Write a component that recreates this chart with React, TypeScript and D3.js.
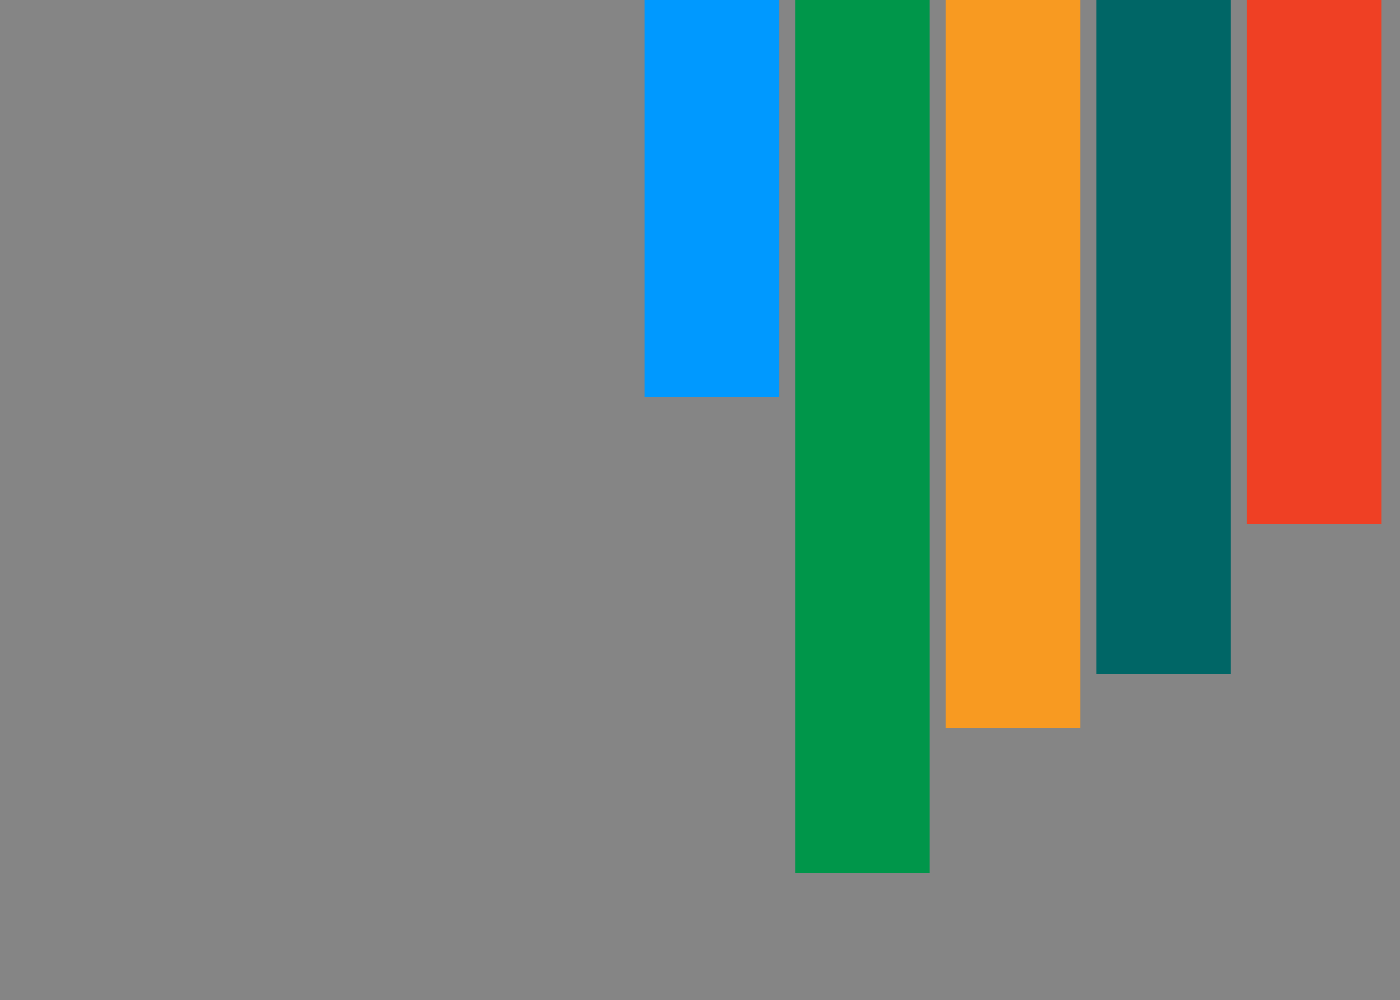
import { useEffect, useRef } from 'react';
import * as d3 from 'd3';

const WIDTH = 1400;
const HEIGHT = 1000;

const categories = ['A', 'B', 'C', 'D', 'E'];
const values = [39.7, 87.3, 72.8, 67.4, 52.4];
const colors = ['#0099ff', '#00964a', '#f89a21', '#006666', '#ef4024'];

export default function App() {
  const svgRef = useRef<SVGSVGElement | null>(null);

  useEffect(() => {
    if (!svgRef.current) return;
    const svg = d3.select(svgRef.current);
    svg.selectAll('*').remove();

    const x = d3
      .scaleBand<string>()
      .domain(categories)
      .range([628.5, 1397.5])
      .padding(0.107);

    const y = d3.scaleLinear().domain([0, 100]).range([0, HEIGHT]);

    svg
      .append('rect')
      .attr('width', WIDTH)
      .attr('height', HEIGHT)
      .attr('fill', '#858585');

    svg
      .append('g')
      .selectAll('rect')
      .data(values)
      .enter()
      .append('rect')
      .attr('x', (_, i) => x(categories[i]) ?? 0)
      .attr('y', y(0))
      .attr('width', x.bandwidth())
      .attr('height', (v) => y(v))
      .attr('fill', (_, i) => colors[i]);
  }, []);

  return (
    <>
      <style>{'body{margin:0}'}</style>
      <svg
        ref={svgRef}
        width={WIDTH}
        height={HEIGHT}
        viewBox={`0 0 ${WIDTH} ${HEIGHT}`}
        style={{ display: 'block' }}
      />
    </>
  );
}
